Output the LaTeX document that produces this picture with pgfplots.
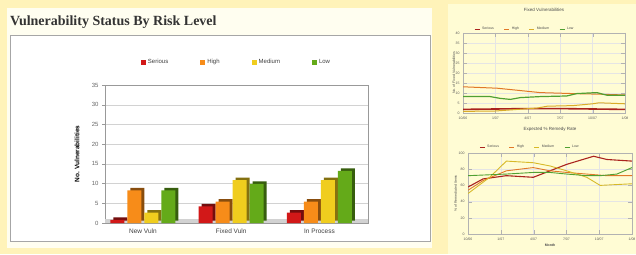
\documentclass[border=0pt]{standalone}
\usepackage{pgfplots}
\pgfplotsset{compat=1.18}
\usepackage{fontspec}
\setmainfont{Liberation Sans}
\newfontfamily\titlefont{Liberation Serif}
\definecolor{bgy}{RGB}{255,243,185}
\definecolor{cream}{RGB}{255,254,240}
\definecolor{rpanel}{RGB}{255,252,212}
\definecolor{sred}{RGB}{210,24,24}
\definecolor{shigh}{RGB}{247,140,25}
\definecolor{smed}{RGB}{240,205,30}
\definecolor{slow}{RGB}{100,170,25}
\definecolor{lred}{RGB}{170,35,30}
\definecolor{lorange}{RGB}{225,120,40}
\definecolor{lyel}{RGB}{215,185,40}
\definecolor{lgreen}{RGB}{80,160,50}
\pgfplotstableread{
x serious high medium low
0 0.8 8.3 2.6 8.3
1 4.2 5.4 10.9 9.9
2 2.6 5.4 10.9 13.2
}\bars
\begin{document}
\begin{tikzpicture}[x=1pt,y=1pt]
\path[use as bounding box] (0,0) rectangle (636,254);
\fill[bgy] (0,0) rectangle (636,254);
\fill[cream] (7,6) rectangle (432,246);
\draw[gray!70, fill=white, line width=0.8pt] (10,13) rectangle (430,219);
\fill[rpanel] (448,0) rectangle (636,250);
\node[anchor=west, font=\titlefont\bfseries\fontsize{14}{16}\selectfont, text=black!80, inner sep=0pt] at (10,232) {Vulnerability Status By Risk Level};

\begin{axis}[at={(105pt,31pt)}, anchor=south west, scale only axis,
  width=263pt, height=138pt,
  ymin=0, ymax=35, ytick={0,5,...,35},
  xmin=-0.43, xmax=2.55, xtick={0,1,2},
  xticklabels={New Vuln, Fixed Vuln, In Process},
  ybar, bar width=14pt,
  /pgf/number format/assume math mode=true,
  ymajorgrids, grid style={gray!35},
  axis line style={gray!80, line width=0.8pt},
  xtick style={draw=none}, ytick style={gray!80},
  ytick pos=left, tick align=outside, major tick length=3pt,
  yticklabel style={font=\fontsize{6}{7}\selectfont, text=gray!80!black},
  xticklabel style={font=\fontsize{6.5}{7}\selectfont, text=black!75, yshift=1pt},
  ylabel={No. Vulnerabilities},
  ylabel style={font=\bfseries\fontsize{6.5}{7}\selectfont, at={(axis description cs:-0.106,0.5)}, anchor=center},
  legend style={at={(0.5,1)}, anchor=center, yshift=23pt, draw=none, fill=none,
    font=\fontsize{6}{7}\selectfont, text=black!75},
  legend columns=4,
  legend cell align=left,
  /tikz/every even column/.append style={column sep=30pt},
  legend image code/.code={\fill[#1] (0pt,-2.5pt) rectangle (5pt,2.5pt);},
]
\fill[gray!35] (axis cs:-0.43,0) rectangle (axis cs:2.55,1.0);
% depth (3D side) copies
\addplot[forget plot, draw=none, fill=sred!55!black, bar shift=-22.5pt, yshift=2.5pt] table[x=x,y=serious] {\bars};
\addplot[forget plot, draw=none, fill=shigh!55!black, bar shift=-5.5pt, yshift=2.5pt] table[x=x,y=high] {\bars};
\addplot[forget plot, draw=none, fill=smed!55!black, bar shift=11.5pt, yshift=2.5pt] table[x=x,y=medium] {\bars};
\addplot[forget plot, draw=none, fill=slow!55!black, bar shift=28.5pt, yshift=2.5pt] table[x=x,y=low] {\bars};
% front faces
\addplot[draw=none, fill=sred, bar shift=-25.5pt] table[x=x,y=serious] {\bars};
\addplot[draw=none, fill=shigh, bar shift=-8.5pt] table[x=x,y=high] {\bars};
\addplot[draw=none, fill=smed, bar shift=8.5pt] table[x=x,y=medium] {\bars};
\addplot[draw=none, fill=slow, bar shift=25.5pt] table[x=x,y=low] {\bars};
\legend{Serious, High, Medium, Low}
\end{axis}

\begin{axis}[at={(463pt,141pt)}, anchor=south west, scale only axis,
  width=162pt, height=80pt,
  xmin=0, xmax=5, ymin=0, ymax=40,
  xtick={0,...,5}, xticklabels={10/06,1/07,4/07,7/07,10/07,1/08},
  ytick={0,5,...,40},
  /pgf/number format/assume math mode=true,
  grid=major, grid style={gray!20},
  axis line style={gray!60}, tick style={gray!60},
  tick label style={font=\fontsize{3.5}{4}\selectfont, text=gray!70!black},
  title={Fixed Vulnerabilities},
  title style={font=\fontsize{4.5}{5}\selectfont, text=black!70, at={(0.5,1)}, anchor=center, yshift=17pt},
  ylabel={No. of Fixed Vulnerabilities},
  ylabel style={font=\fontsize{3.5}{4}\selectfont, text=black!70, at={(axis description cs:-0.056,0.5)}, anchor=center},
  legend style={at={(0.05,1)}, anchor=west, yshift=4pt, draw=none, fill=none,
    font=\fontsize{3.5}{4}\selectfont, text=black!70},
  legend columns=4,
  /tikz/every even column/.append style={column sep=8pt},
  legend image code/.code={\draw[#1, line width=0.8pt] (0pt,0pt) -- (5pt,0pt);},
]
\addplot[lred, line width=1.6pt] coordinates {(0,1.8) (1,2.0) (2,2.2) (3,2.2) (4,2.0) (5,1.8)};
\addplot[lorange, line width=1pt] coordinates {(0,13.1) (1.05,12.4) (1.66,11.4) (2.38,10.2) (3.41,9.7) (4.23,9.4) (5,9.0)};
\addplot[lyel!80!lorange, line width=1pt] coordinates {(0,0.8) (1,1.0) (2.3,2.5) (2.6,3.4) (3.4,3.7) (4,4.6) (4.2,5.1) (5,4.6)};
\addplot[lgreen, line width=1.2pt] coordinates {(0,8.2) (0.84,8.2) (1.15,7.3) (1.46,6.8) (1.77,7.7) (2.38,8.2) (3.2,8.5) (3.51,9.7) (4.13,10.2) (4.44,8.9) (5,8.9)};
\legend{Serious, High, Medium, Low}
\end{axis}

\begin{axis}[at={(468pt,20pt)}, anchor=south west, scale only axis,
  width=164pt, height=81pt,
  xmin=0, xmax=5, ymin=0, ymax=100,
  xtick={0,...,5}, xticklabels={10/06,1/07,4/07,7/07,10/07,1/08},
  ytick={0,20,...,100},
  /pgf/number format/assume math mode=true,
  grid=major, grid style={gray!20},
  axis line style={gray!60}, tick style={gray!60},
  tick label style={font=\fontsize{3.5}{4}\selectfont, text=gray!70!black},
  title={Expected \% Remedy Rate},
  title style={font=\fontsize{4.5}{5}\selectfont, text=black!70, at={(0.5,1)}, anchor=center, yshift=18pt},
  xlabel={Month},
  xlabel style={font=\bfseries\fontsize{3.5}{4}\selectfont, text=black!70, yshift=3pt},
  ylabel={\% of Remediated Items},
  ylabel style={font=\fontsize{3.5}{4}\selectfont, text=black!70, at={(axis description cs:-0.075,0.5)}, anchor=center},
  legend style={at={(0.05,1)}, anchor=west, yshift=6pt, draw=none, fill=none,
    font=\fontsize{3.5}{4}\selectfont, text=black!70},
  legend columns=4,
  /tikz/every even column/.append style={column sep=8pt},
  legend image code/.code={\draw[#1, line width=0.8pt] (0pt,0pt) -- (5pt,0pt);},
]
\addplot[lred, line width=1.1pt] coordinates {(0,58) (0.46,68) (1.17,72) (1.99,70) (2.5,78) (3.01,86) (3.83,96) (4.23,92) (5,90)};
\addplot[lorange, line width=0.9pt] coordinates {(0,54) (0.46,66) (1.17,78) (1.99,82) (2.5,78) (3.01,76) (3.62,74) (4.23,72) (5,72)};
\addplot[lyel, line width=0.9pt] coordinates {(0,50) (0.66,70) (1.17,90) (1.99,88) (2.5,84) (3.01,78) (3.62,70) (4.03,60) (5,62)};
\addplot[lgreen, line width=0.9pt] coordinates {(0,72) (1.17,74) (1.99,76) (2.5,76) (3.01,74) (3.62,72) (4.03,72) (4.54,74) (5,82)};
\legend{Serious, High, Medium, Low}
\end{axis}
\end{tikzpicture}
\end{document}
